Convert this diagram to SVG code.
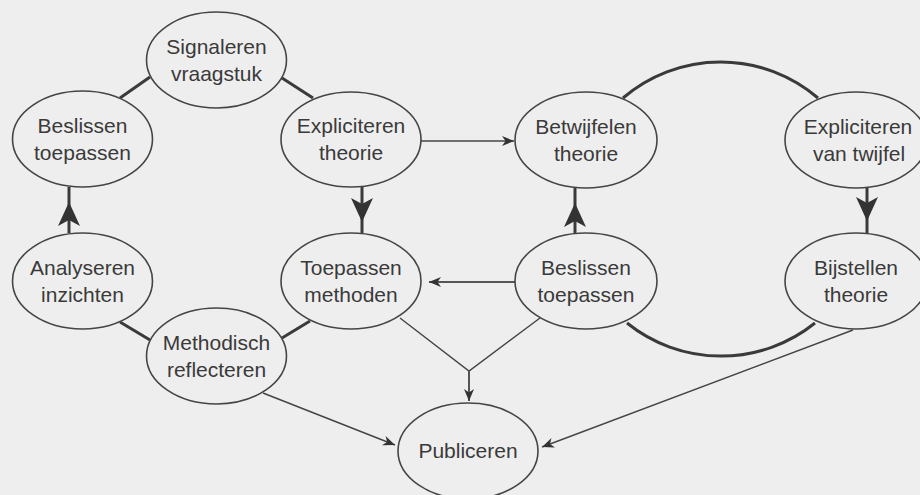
<svg xmlns="http://www.w3.org/2000/svg" width="920" height="495" viewBox="0 0 920 495">
<style>
.bg{fill:#eeeeee}
.node ellipse{fill:#eeeeee;stroke:#454545;stroke-width:1.6}
.node text{font-family:"Liberation Sans",Arial,sans-serif;font-size:21px;fill:#3a3a3a;text-anchor:middle}
.thick{fill:none;stroke:#3a3a3a;stroke-width:3}
.thin{fill:none;stroke:#444;stroke-width:1.4}
.mid{fill:none;stroke:#555;stroke-width:2}
</style>
<defs>
<marker id="big" markerUnits="userSpaceOnUse" viewBox="-26 -12 28 24" markerWidth="28" markerHeight="24" refX="0" refY="0" orient="auto" overflow="visible">
<path d="M0,0 L-24,-11 L-18,0 L-24,11 Z" fill="#333"/>
</marker>
<marker id="small" markerUnits="userSpaceOnUse" viewBox="-13 -6 14 12" markerWidth="14" markerHeight="12" refX="0" refY="0" orient="auto" overflow="visible">
<path d="M0,0 L-12,-5 L-8.5,0 L-12,5 Z" fill="#333"/>
</marker>
</defs>
<rect class="bg" x="0" y="0" width="920" height="495"/>
<g id="connectors">
<line class="thick" x1="120" y1="98" x2="150" y2="77"/>
<line class="thick" x1="282" y1="78" x2="313" y2="98"/>
<line class="thick" x1="120" y1="322" x2="150" y2="340"/>
<line class="thick" x1="282" y1="338" x2="310" y2="321"/>
<path class="thick" d="M623,98 A150,150 0 0 1 818,98"/>
<path class="thick" d="M627,323 A150,150 0 0 0 815,323"/>
<path class="thick" d="M362,187 L362,222 L362,233" marker-mid="url(#big)"/>
<path class="thick" d="M69,233 L69,202 L69,187" marker-mid="url(#big)"/>
<path class="thick" d="M575,233 L575,203 L575,188" marker-mid="url(#big)"/>
<path class="thick" d="M867,188 L867,221 L867,233" marker-mid="url(#big)"/>
<line class="thin" x1="421" y1="141" x2="514" y2="141" marker-end="url(#small)"/>
<line class="mid" x1="515" y1="282" x2="429" y2="282" marker-end="url(#small)"/>
<line class="thin" x1="263" y1="393" x2="395" y2="445" marker-end="url(#small)"/>
<line class="thin" x1="853" y1="330" x2="542" y2="447" marker-end="url(#small)"/>
<polyline class="thin" points="400,318 469,371 540,318"/>
<line class="mid" x1="469" y1="371" x2="469" y2="401" marker-end="url(#small)"/>
</g>
<g id="n-signaleren" class="node"><ellipse cx="216.5" cy="60" rx="70" ry="48"/><text x="216.5" y="54">Signaleren</text><text x="216.5" y="81">vraagstuk</text></g>
<g id="n-beslissen-l" class="node"><ellipse cx="82.5" cy="139" rx="70" ry="48"/><text x="82.5" y="133">Beslissen</text><text x="82.5" y="160">toepassen</text></g>
<g id="n-expl-theorie" class="node"><ellipse cx="351" cy="139.5" rx="70" ry="47.5"/><text x="351" y="133">Expliciteren</text><text x="351" y="160">theorie</text></g>
<g id="n-betwijfelen" class="node"><ellipse cx="586" cy="140" rx="71" ry="48"/><text x="586" y="134">Betwijfelen</text><text x="586" y="161">theorie</text></g>
<g id="n-expl-twijfel" class="node"><ellipse cx="856" cy="140" rx="71" ry="48"/><text x="858" y="134">Expliciteren</text><text x="859" y="161">van twijfel</text></g>
<g id="n-analyseren" class="node"><ellipse cx="82.5" cy="281" rx="70" ry="48"/><text x="82.5" y="275">Analyseren</text><text x="82.5" y="302">inzichten</text></g>
<g id="n-toepassen" class="node"><ellipse cx="351" cy="281" rx="70" ry="48"/><text x="351" y="275">Toepassen</text><text x="351" y="302">methoden</text></g>
<g id="n-beslissen-r" class="node"><ellipse cx="586" cy="281" rx="71" ry="48"/><text x="586" y="275">Beslissen</text><text x="586" y="302">toepassen</text></g>
<g id="n-bijstellen" class="node"><ellipse cx="856" cy="281" rx="71" ry="48"/><text x="856" y="275">Bijstellen</text><text x="856" y="302">theorie</text></g>
<g id="n-methodisch" class="node"><ellipse cx="216.5" cy="356" rx="70" ry="48"/><text x="216.5" y="350">Methodisch</text><text x="216.5" y="377">reflecteren</text></g>
<g id="n-publiceren" class="node"><ellipse cx="468" cy="451" rx="70" ry="48"/><text x="468" y="458">Publiceren</text></g>
</svg>
